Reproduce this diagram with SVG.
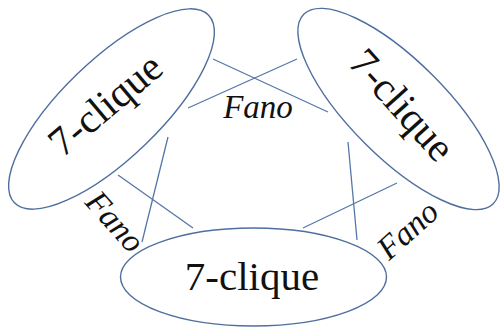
<svg xmlns="http://www.w3.org/2000/svg" width="503" height="332" viewBox="0 0 503 332">
<style>
.node{fill:#fff;stroke:#4f6f9f;stroke-width:1.4}
.edge{stroke:#5577a8;stroke-width:1.3;fill:none}
.big{font-family:"Liberation Serif",serif;font-size:41px;fill:#111;text-anchor:middle}
.lab{font-family:"Liberation Serif",serif;font-style:italic;font-size:33px;fill:#111;text-anchor:middle}
</style>
<rect width="503" height="332" fill="#fff"/>
<g id="connectors">
<line class="edge" x1="213" y1="59" x2="328" y2="112"/>
<line class="edge" x1="297" y1="59" x2="188" y2="108"/>
<line class="edge" x1="118" y1="175" x2="193" y2="228"/>
<line class="edge" x1="168" y1="137" x2="142" y2="242"/>
<line class="edge" x1="348" y1="142" x2="357" y2="240"/>
<line class="edge" x1="397" y1="183" x2="303" y2="228"/>
</g>
<g id="clique-left">
<ellipse class="node" cx="0" cy="0" rx="135" ry="49" transform="translate(111.5 109) rotate(-44)" fill="none" style="fill:none"/>
<text class="big" transform="translate(114 115) rotate(-40)">7-clique</text>
</g>
<g id="clique-right">
<ellipse class="node" cx="0" cy="0" rx="134" ry="48" transform="translate(398.5 109) rotate(45)" style="fill:none"/>
<text class="big" transform="translate(392 114) rotate(48)">7-clique</text>
</g>
<g id="clique-bottom">
<ellipse class="node" cx="253.5" cy="277" rx="133" ry="49" style="fill:none"/>
<text class="big" x="252" y="290">7-clique</text>
</g>
<g id="fano-top">
<text class="lab" x="258" y="118">Fano</text>
</g>
<g id="fano-left">
<text class="lab" transform="translate(107 229) rotate(48)">Fano</text>
</g>
<g id="fano-right">
<text class="lab" transform="translate(415 238) rotate(-42)">Fano</text>
</g>
</svg>
